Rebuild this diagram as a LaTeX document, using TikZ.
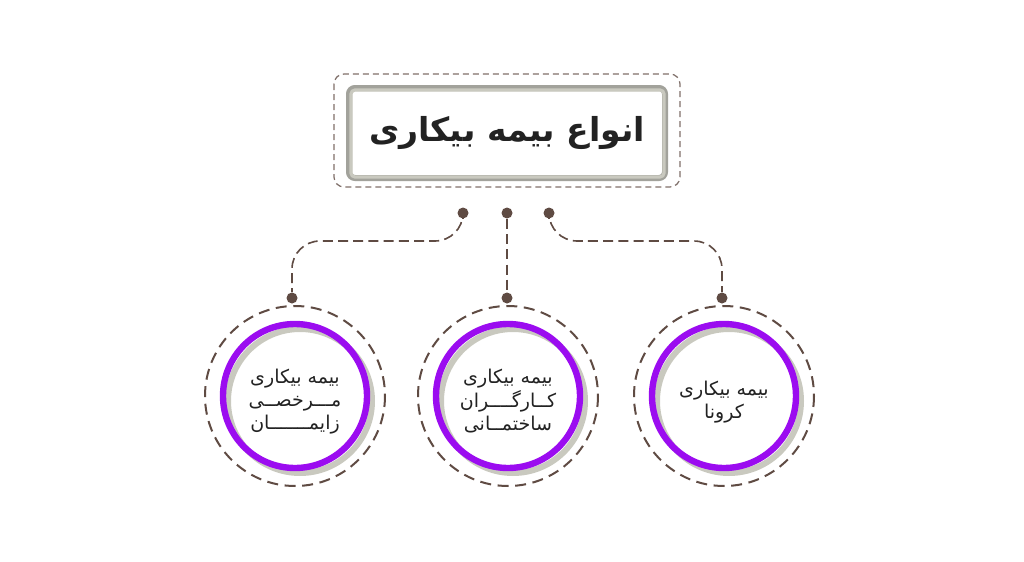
\documentclass[tikz,border=0pt]{standalone}
\usepackage{fontspec}
\newfontfamily\arabicfont[Script=Arabic]{DejaVu Sans}
\TeXXeTstate=1
\newcommand{\fa}[1]{\beginR #1\endR}
% text block set a little low in the ring
\newcommand{\ringtext}[1]{\raisebox{-3pt}[\height][\depth]{%
  \begin{tabular}{@{}c@{}}#1\end{tabular}}}
\definecolor{linkbrown}{HTML}{5F4B43}
\definecolor{ringpurple}{HTML}{9B0CF0}
\definecolor{ringgray}{HTML}{C9C9BF}
\definecolor{framegray}{HTML}{A2A29B}
\definecolor{textdark}{HTML}{222222}

\begin{document}
\begin{tikzpicture}
  [x=0.5pt,y=-0.5pt,
  link/.style={draw=linkbrown,line width=0.8pt,dash pattern=on 5pt off 2.6pt,
    rounded corners=14pt},
  dot node/.style={circle,fill=linkbrown,inner sep=0pt,minimum size=5.5pt},
  type node/.style={circle,draw=ringpurple,line width=3.2pt,minimum size=72pt,
    inner sep=0pt,text=textdark,
    font=\arabicfont\fontsize{9.5}{11.5}\selectfont},
  shade ring/.style={draw=ringgray,line width=3pt},
  dash ring/.style={draw=linkbrown,line width=1pt,dash pattern=on 5.5pt off 3.3pt},
  title node/.style={draw=framegray,line width=3pt,rounded corners=3pt,
    minimum width=158pt,minimum height=45pt,text=textdark,
    font=\arabicfont\bfseries\fontsize{16.5}{20}\selectfont}]

  \useasboundingbox (0,0) rectangle (1024,562);

  % title box
  \node[title node] (T) at (507,133) {\fa{انواع بیمه بیکاری}};
  \draw[ringgray,line width=1.6pt,rounded corners=2pt]
    ([shift={(5,5)}]T.north west) rectangle ([shift={(-4,-4)}]T.south east);
  \draw[linkbrown!80,line width=0.6pt,dash pattern=on 3pt off 2pt,rounded corners=5pt]
    ([shift={(-12,-11)}]T.north west) rectangle ([shift={(12,6)}]T.south east);

  % dots
  \node[dot node] (t1) at (463,213) {};
  \node[dot node] (t2) at (507,213) {};
  \node[dot node] (t3) at (549,213) {};
  \node[dot node] (b1) at (292,298) {};
  \node[dot node] (b2) at (507,298) {};
  \node[dot node] (b3) at (722,298) {};
  \coordinate (mid) at (0,241);

  \draw[link] (t1) -- (t1 |- mid) -- (b1 |- mid) -- (b1);
  \draw[link] (t2) -- (b2);
  \draw[link] (t3) -- (t3 |- mid) -- (b3 |- mid) -- (b3);

  % circles
  \foreach \x in {295,508,724}
    \draw[shade ring] (\x+5,401) circle (72);

  \node[type node] (c1) at (295,396)
    {\ringtext{\fa{بیمه بیکاری}\\\fa{مـــرخصــی}\\\fa{زایمـــــــان}}};
  \node[type node] (c2) at (508,396)
    {\ringtext{\fa{بیمه بیکاری}\\\fa{کــارگــــران}\\\fa{ساختمــانی}}};
  \node[type node] (c3) at (724,396)
    {\ringtext{\fa{بیمه بیکاری}\\\fa{کرونا}}};

  \draw[dash ring] (c1) circle (90);
  \draw[dash ring] (c2) circle (90);
  \draw[dash ring] (c3) circle (90);
\end{tikzpicture}
\end{document}
